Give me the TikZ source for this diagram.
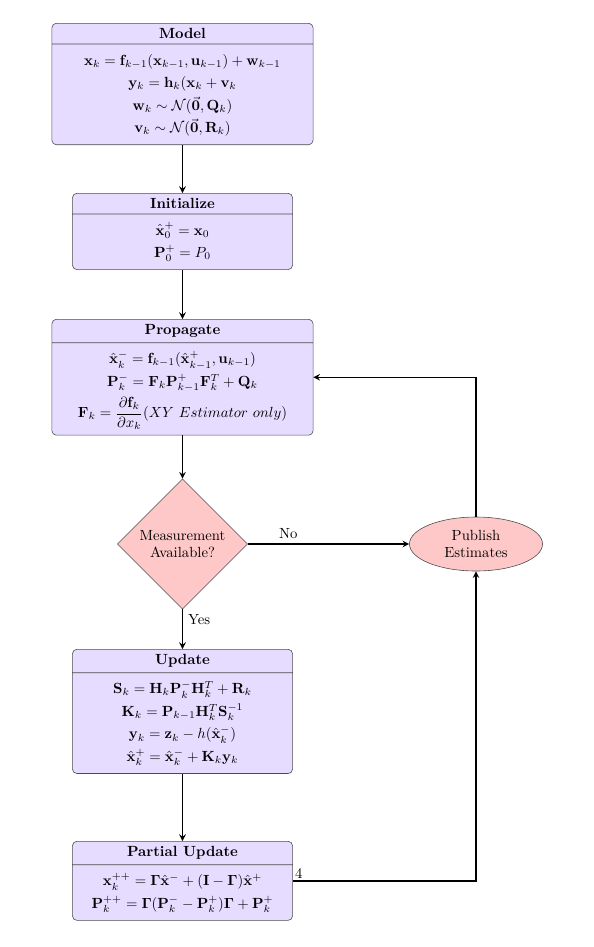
\documentclass[tikz,border=0pt]{standalone}
\usepackage{amsmath,amssymb}
\usetikzlibrary{shapes.multipart,shapes.geometric}
\definecolor{stepfill}{RGB}{230,220,255}
\definecolor{testfill}{RGB}{255,200,200}
\renewcommand{\arraystretch}{1.28}
\tikzset{
  stepbox/.style={rectangle split, rectangle split parts=2, draw=black!70, fill=stepfill,
    rounded corners=3pt, anchor=north},
  testbox/.style={diamond, aspect=1, draw=black!70, fill=testfill, inner sep=1pt,
    minimum size=3.11cm, align=center},
  outbox/.style={ellipse, draw=black!70, fill=testfill, inner sep=0pt,
    minimum width=3.18cm, minimum height=1.29cm, align=center},
  flow/.style={-stealth, line width=1pt}
}
\begin{document}
\begin{tikzpicture}[x=0.0239cm,y=-0.0239cm]
			\useasboundingbox (0,0) rectangle (593,947);
			% steps of the filter
			\node[stepbox, minimum width=6.24cm] (model) at (182.5,23) {\textbf{Model}
				\nodepart{two}\begin{tabular}{c}
				$\mathbf{x}_k = \mathbf{f}_{k-1}(\mathbf{x}_{k-1},\mathbf{u}_{k-1}) + \mathbf{w}_{k-1}$\\
				$\mathbf{y}_k = \mathbf{h}_k(\mathbf{x}_k + \mathbf{v}_k$\\
				$\mathbf{w}_k \sim \mathcal{N}(\vec{\mathbf{0}},\mathbf{Q}_k)$\\
				$\mathbf{v}_k \sim \mathcal{N}(\vec{\mathbf{0}},\mathbf{R}_k)$
				\end{tabular}};
			\node[stepbox, minimum width=5.26cm] (init) at (182.5,193) {\textbf{Initialize}
				\nodepart{two}\begin{tabular}{c}
				$\hat{\mathbf{x}}_0^+ = \mathbf{x}_0$\\
				$\mathbf{P}_0^+ = P_0$
				\end{tabular}};
			\node[stepbox, minimum width=6.24cm] (prop) at (182.5,319) {\textbf{Propagate}
				\nodepart{two}\begin{tabular}{c}
				$\hat{\mathbf{x}}_k^- = \mathbf{f}_{k-1}(\hat{\mathbf{x}}_{k-1}^+,\mathbf{u}_{k-1})$\\
				$\mathbf{P}_k^- = \mathbf{F}_k\mathbf{P}_{k-1}^+\mathbf{F}_k^T + \mathbf{Q}_k$\\[3pt]
				$\mathbf{F}_k = \dfrac{\partial\mathbf{f}_k}{\partial x_k}(XY\ Estimator\ only)$
				\end{tabular}};
			\node[testbox] (meas) at (182.5,544) {Measurement\\Available?};
			\node[outbox] (pub) at (476,544) {Publish\\Estimates};
			\node[stepbox, minimum width=5.26cm] (upd) at (182.5,649) {\textbf{Update}
				\nodepart{two}\begin{tabular}{c}
				$\mathbf{S}_k = \mathbf{H}_k\mathbf{P}_k^-\mathbf{H}_k^T + \mathbf{R}_k$\\
				$\mathbf{K}_k = \mathbf{P}_{k-1}\mathbf{H}_k^T\mathbf{S}_k^{-1}$\\
				$\mathbf{y}_k = \mathbf{z}_k - h(\hat{\mathbf{x}}_k^-)$\\
				$\hat{\mathbf{x}}_k^+ = \hat{\mathbf{x}}_k^- + \mathbf{K}_k\mathbf{y}_k$
				\end{tabular}};
			\node[stepbox, minimum width=5.26cm] (partial) at (182.5,841) {\textbf{Partial Update}
				\nodepart{two}\begin{tabular}{c}
				$\mathbf{x}_k^{++} = \mathbf{\Gamma}\hat{\mathbf{x}}^- + (\mathbf{I}-\mathbf{\Gamma})\hat{\mathbf{x}}^+$\\
				$\mathbf{P}_k^{++} = \mathbf{\Gamma}(\mathbf{P}_k^- - \mathbf{P}_k^+)\mathbf{\Gamma} + \mathbf{P}_k^+$
				\end{tabular}};
			% flow
			\draw[flow] (model) -- (init);
			\draw[flow] (init) -- (prop);
			\draw[flow] (prop) -- (meas);
			\draw[flow] (meas) -- node[right, near start] {Yes} (upd);
			\draw[flow] (meas) -- node[above, near start] {No} (pub);
			\draw[flow] (upd) -- (partial);
			\draw[flow] (partial.east) -| node[pos=0, anchor=south west, inner sep=1pt] {4} (pub.south);
			\draw[flow] (pub.north) |- (prop.east);
\end{tikzpicture}
\end{document}
